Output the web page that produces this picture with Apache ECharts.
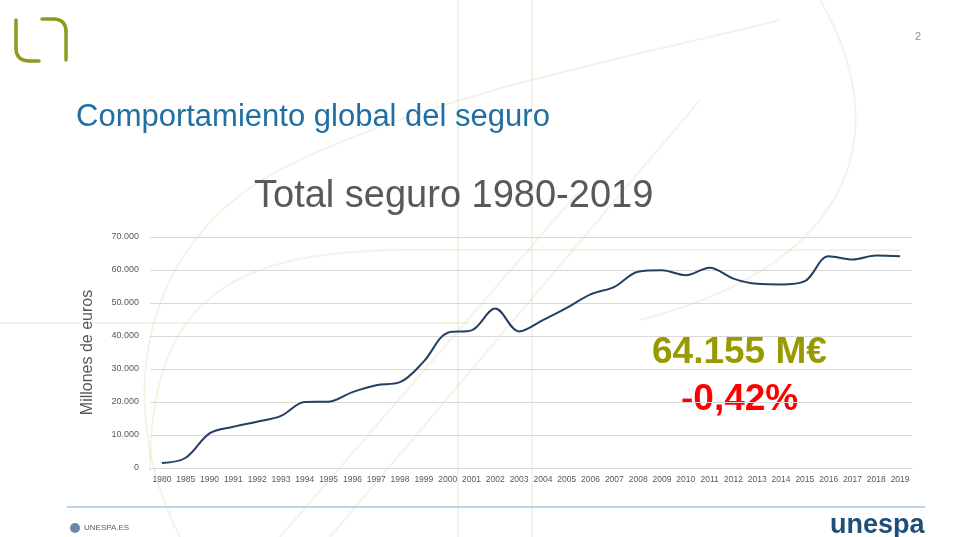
<!DOCTYPE html>
<html>
<head>
<meta charset="utf-8">
<script src="https://cdn.jsdelivr.net/npm/echarts@6/dist/echarts.min.js"></script>
<style>
html,body{margin:0;padding:0;background:#fff;}
#c{width:962px;height:537px;}
</style>
</head>
<body>
<div id="c"></div>
<script>
var years = ['1980','1985','1990','1991','1992','1993','1994','1995','1996','1997','1998','1999','2000','2001','2002','2003','2004','2005','2006','2007','2008','2009','2010','2011','2012','2013','2014','2015','2016','2017','2018','2019'];
var totalSeguro = [1500,3100,10500,12500,14000,15800,20000,20100,23000,25100,26000,32300,41000,41700,48300,41400,44800,48500,52600,54900,59500,59900,58400,60700,57400,55800,55600,56600,64200,63200,64400,64155];
var yTicks = [0,10000,20000,30000,40000,50000,60000,70000];

function fmt(v){ if(v===0) return '0'; var s=String(v); return s.slice(0,s.length-3)+'.'+s.slice(s.length-3); }

var chart = echarts.init(document.getElementById('c'), null, {renderer:'canvas'});
var decoColor = 'rgba(200,200,140,0.22)';
var olive = '#8f9a1f';
function bz(x1,y1,c1x,c1y,c2x,c2y,x2,y2){
  return {type:'bezierCurve', silent:true, z:-10, shape:{x1:x1,y1:y1,cpx1:c1x,cpy1:c1y,cpx2:c2x,cpy2:c2y,x2:x2,y2:y2}, style:{stroke:decoColor, fill:null, lineWidth:2}};
}
function ln(x1,y1,x2,y2){
  return {type:'line', silent:true, z:-10, shape:{x1:x1,y1:y1,x2:x2,y2:y2}, style:{stroke:decoColor, lineWidth:2}};
}
chart.setOption({
  backgroundColor:'#ffffff',
  animation:false,
  title:[
    {text:'Comportamiento global del seguro', left:71, top:97, textStyle:{fontFamily:'Liberation Sans', fontSize:31, fontWeight:'normal', color:'#1f6fa3'}},
    {text:'Total seguro 1980-2019', left:249, top:173, textStyle:{fontFamily:'Liberation Sans', fontSize:38, fontWeight:'normal', color:'#595959'}}
  ],
  grid:{left:150, right:50, top:237, bottom:537-468, containLabel:false},
  xAxis:{
    type:'category', data:years, boundaryGap:true,
    axisLine:{show:true, lineStyle:{color:'#d9d9d9'}},
    axisTick:{show:false},
    axisLabel:{interval:0, fontSize:8.5, color:'#595959', fontFamily:'Liberation Sans', margin:7}
  },
  yAxis:{
    type:'value', min:0, max:70000, interval:10000,
    name:'Millones de euros', nameLocation:'middle', nameGap:54, nameRotate:90,
    nameTextStyle:{fontFamily:'Liberation Sans', fontSize:16, color:'#595959'},
    axisLine:{show:false}, axisTick:{show:false},
    axisLabel:{fontSize:9, color:'#595959', fontFamily:'Liberation Sans', margin:11, formatter:function(v){return fmt(v);}},
    splitLine:{lineStyle:{color:'#d9d9d9', width:1}}
  },
  series:[{
    type:'line', data:totalSeguro, smooth:0.35, symbol:'none',
    lineStyle:{color:'#243f66', width:2}
  }],
  graphic:[
    ln(458,0,458,537),
    ln(532,0,532,537),
    ln(0,323,470,323),
    ln(280,537,580,190),
    ln(330,537,700,100),
    bz(150,470,150,300,230,252,400,250),
    ln(400,250,900,250),
    bz(180,537,110,400,140,230,300,160),
    bz(300,160,450,90,620,60,780,20),
    bz(820,0,890,120,870,260,640,320),
    {type:'polyline', shape:{points:[[16,20],[16,48]]}, style:{stroke:olive, fill:null, lineWidth:3.5, lineCap:'round'}},
    {type:'bezierCurve', shape:{x1:16,y1:48,cpx1:16,cpy1:61,x2:30,y2:61}, style:{stroke:olive, fill:null, lineWidth:3.5}},
    {type:'polyline', shape:{points:[[30,61],[39,61]]}, style:{stroke:olive, fill:null, lineWidth:3.5, lineCap:'round'}},
    {type:'polyline', shape:{points:[[42,19],[53,19]]}, style:{stroke:olive, fill:null, lineWidth:3.5, lineCap:'round'}},
    {type:'bezierCurve', shape:{x1:53,y1:19,cpx1:66,cpy1:19,x2:66,y2:32}, style:{stroke:olive, fill:null, lineWidth:3.5}},
    {type:'polyline', shape:{points:[[66,32],[66,60]]}, style:{stroke:olive, fill:null, lineWidth:3.5, lineCap:'round'}},
    {type:'text', left:915, top:31, style:{text:'2', fontSize:11, fill:'#7f8fa6', fontFamily:'Liberation Sans'}},
    {type:'text', left:652, top:334, style:{text:'64.155 M€', fontSize:37, fontWeight:'bold', fill:'#999a00', fontFamily:'Liberation Sans'}},
    {type:'text', left:681, top:381, style:{text:'-0,42%', fontSize:37, fontWeight:'bold', fill:'#ff0000', fontFamily:'Liberation Sans'}},
    {type:'line', shape:{x1:67,y1:507,x2:925,y2:507}, style:{stroke:'#bcd4e8', lineWidth:2}},
    {type:'circle', shape:{cx:75,cy:528,r:5}, style:{fill:'#6f86a8'}},
    {type:'text', left:84, top:524, style:{text:'UNESPA.ES', fontSize:8, fill:'#4a5f80', fontFamily:'Liberation Sans'}},
    {type:'text', left:830, top:512, style:{text:'unespa', fontSize:27, fontWeight:'bold', fill:'#1f4e79', fontFamily:'Liberation Sans'}}
  ]
});
</script>
</body>
</html>
